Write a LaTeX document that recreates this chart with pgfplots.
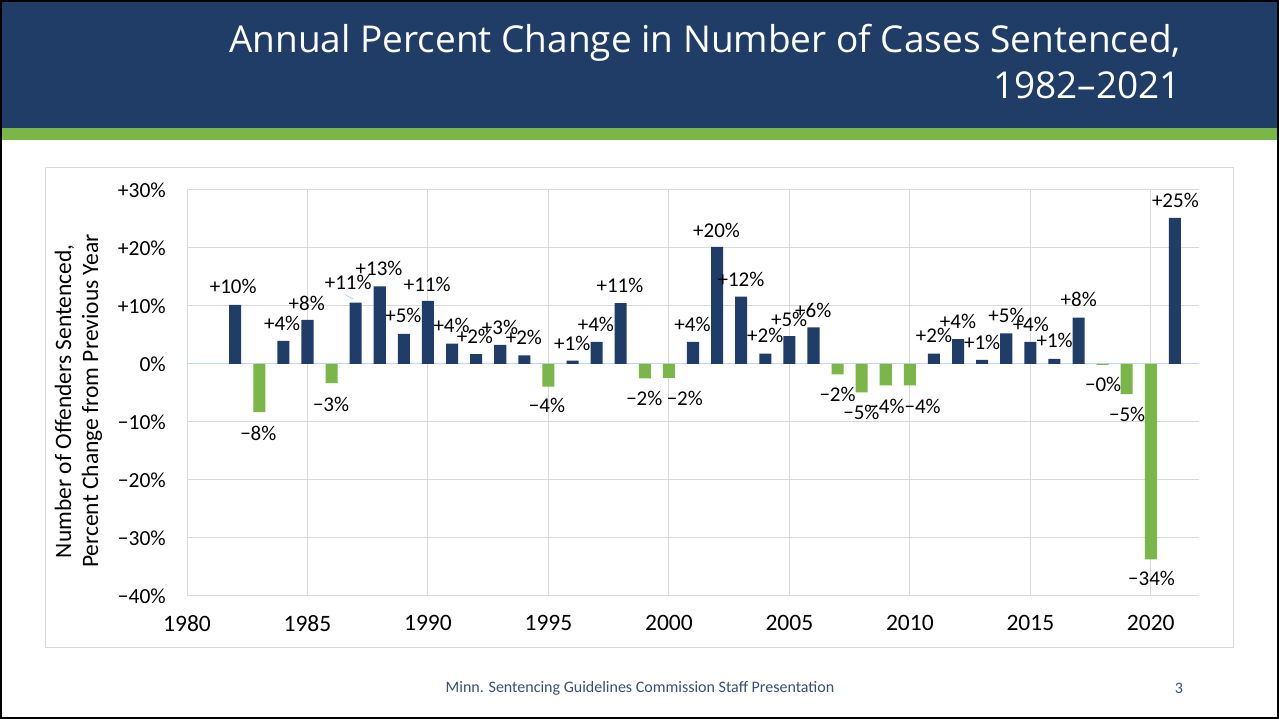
\documentclass[border=0pt]{standalone}
\usepackage{pgfplots}
\pgfplotsset{compat=1.18}
\usepackage{fontspec}
\setmainfont{Carlito}
\newfontfamily\titlefont{Open Sans}
\definecolor{hdrblue}{HTML}{1F3D66}
\definecolor{barblue}{HTML}{1F3D66}
\definecolor{bargreen}{HTML}{7AB648}
\definecolor{gridgray}{HTML}{D9D9D9}
\definecolor{zeroblue}{HTML}{BDD7EE}
\definecolor{footblue}{HTML}{3B5070}
\definecolor{leader}{HTML}{9DC3E6}
\begin{document}
\begin{tikzpicture}[x=1pt,y=1pt]
\useasboundingbox (0,0) rectangle (1279,719);
\fill[white] (0,0) rectangle (1279,719);
\fill[hdrblue] (0,591) rectangle (1279,719);
\fill[bargreen] (0,578.5) rectangle (1279,591);
\node[anchor=base east, text=white, font=\titlefont\fontsize{37}{46}\selectfont, inner sep=0pt] at (1181,666) {Annual Percent Change in Number of Cases Sentenced,};
\node[anchor=base east, text=white, font=\titlefont\fontsize{37}{46}\selectfont, inner sep=0pt] at (1181,620) {1982–2021};
\draw[gridgray, line width=1pt] (45,71) rectangle (1233,551);
\node[text=footblue, font=\fontsize{16}{16}\selectfont] at (640,31) {Minn. Sentencing Guidelines Commission Staff Presentation};
\node[text=footblue, font=\fontsize{16}{16}\selectfont] at (1179,31) {3};
\begin{axis}[
  at={(187pt,123pt)}, anchor=south west,
  scale only axis, width=1012pt, height=406pt,
  xmin=1980, xmax=2022, ymin=-40, ymax=30,
  axis line style={draw=none}, tick style={draw=none},
  major tick length=0pt,
  grid=major, grid style={gridgray, line width=1pt},
  xtick={1980,1985,...,2020},
  xticklabels={1980,1985,1990,1995,2000,2005,2010,2015,2020},
  ytick={-40,-30,...,30},
  yticklabels={−40\%,−30\%,−20\%,−10\%,0\%,+10\%,+20\%,+30\%},
  xticklabel style={font=\fontsize{23.5}{23.5}\selectfont, inner sep=0pt, anchor=north, yshift=-19pt},
  yticklabel style={font=\fontsize{21.5}{21.5}\selectfont, inner sep=0pt, anchor=east, xshift=-21pt},
  extra y ticks={0}, extra y tick labels={},
  extra y tick style={grid style={zeroblue, line width=1pt}},
  ylabel={Number of Offenders Sentenced,\\Percent Change from Previous Year},
  every axis y label/.style={at={(axis description cs:-0.1072,0.48)}, rotate=90, anchor=center, align=center, font=\fontsize{23.5}{27}\selectfont},
  clip=false,
]
\addplot[ybar, bar width=0.5, bar shift=0pt, fill=barblue, draw=none] coordinates {
(1982,10.2) (1984,4.0) (1985,7.6) (1987,10.6) (1988,13.4) (1989,5.2) (1990,10.9)
(1991,3.5) (1992,1.7) (1993,3.3) (1994,1.5) (1996,0.6) (1997,3.8) (1998,10.5)
(2001,3.8) (2002,20.2) (2003,11.6) (2004,1.8) (2005,4.8) (2006,6.3)
(2011,1.8) (2012,4.3) (2013,0.7) (2014,5.3) (2015,3.8) (2016,0.9) (2017,8.0) (2021,25.2)
};
\addplot[ybar, bar width=0.5, bar shift=0pt, fill=bargreen, draw=none] coordinates {
(1983,-8.3) (1986,-3.3) (1995,-3.9) (1999,-2.5) (2000,-2.4) (2007,-1.8) (2008,-4.9)
(2009,-3.7) (2010,-3.7) (2018,-0.15) (2019,-5.2) (2020,-33.7)
};
\addplot[leader, line width=0.6pt] coordinates {(1986.55,12.0) (1986.9,11.2)};
\addplot[draw=none, mark=none, nodes near coords={\pgfplotspointmeta\%},
  point meta=explicit symbolic, nodes near coords align=center,
  every node near coord/.style={anchor=center, inner sep=0pt, font=\fontsize{21}{21}\selectfont, text=black}]
table[meta=lab] {
x y lab
1981.92 13.3 +10
1982.96 -11.96 −8
1983.95 7.07 +4
1984.97 10.5 +8
1985.98 -6.9 −3
1986.69 14.07 +11
1987.97 16.5 +13
1988.98 8.33 +5
1989.97 13.8 +11
1990.98 6.6 +4
1991.95 4.76 +2
1992.99 6.3 +3
1993.98 4.6 +2
1994.94 -7.2 −4
1995.99 3.6 +1
1996.97 6.9 +4
1997.97 13.5 +11
1998.98 -6.0 −2
2000.66 -6.0 −2
2000.98 6.8 +4
2001.98 23.1 +20
2002.99 14.65 +12
2004.0 4.88 +2
2004.99 7.76 +5
2005.99 9.3 +6
2007.0 -5.3 −2
2007.99 -8.34 −5
2009.03 -7.36 −4
2010.53 -7.36 −4
2011.0 5.0 +2
2012.0 7.3 +4
2013.0 3.72 +1
2014.01 8.45 +5
2015.02 6.9 +4
2016.01 4.0 +1
2017.01 11.2 +8
2018.02 -3.45 −0
2019.02 -8.74 −5
2020.03 -36.9 −34
2021.02 28.15 +25
};
\end{axis}
\draw[black, line width=2pt] (1,1) rectangle (1278,718);
\end{tikzpicture}
\end{document}
